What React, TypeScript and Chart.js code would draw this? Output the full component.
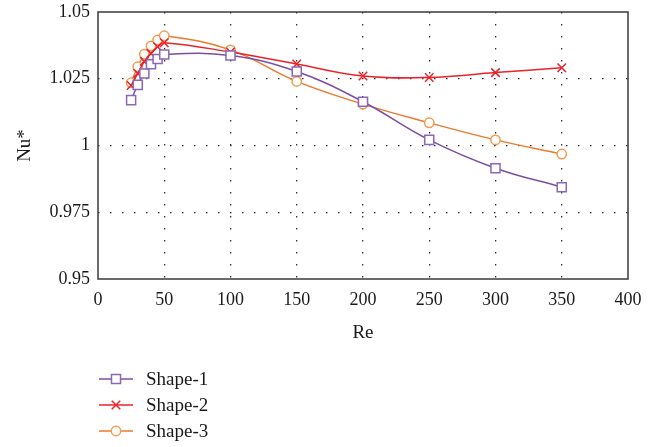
import React, { useEffect, useRef } from "react";
import { Chart, registerables } from "chart.js";

Chart.register(...registerables);

const reValues = [25, 30, 35, 40, 45, 50, 100, 150, 200, 250, 300, 350];
const shape1 = [1.017, 1.0227, 1.027, 1.0304, 1.0324, 1.0341, 1.0337, 1.0277, 1.0164, 1.0021, 0.9915, 0.9844];
const shape2 = [1.0225, 1.027, 1.0315, 1.0345, 1.037, 1.0385, 1.035, 1.0305, 1.026, 1.0255, 1.0273, 1.0291];
const shape3 = [1.0235, 1.0295, 1.0342, 1.0373, 1.0395, 1.0411, 1.0358, 1.024, 1.0155, 1.0085, 1.0021, 0.9968];
const seriesNames = ["Shape-1", "Shape-2", "Shape-3"];
const xTicks = [0, 50, 100, 150, 200, 250, 300, 350, 400];
const yTicks = [0.95, 0.975, 1, 1.025, 1.05];

const FONT = "'Liberation Serif', 'Times New Roman', serif";
const colors = ["#7a4fa3", "#e8232a", "#ec7a2c"];
const pointColors = ["#8a68b5", "#e8232a", "#f29a4f"];
const styles = ["rect", "crossRot", "circle"];
const radii = [6.4, 6, 4.7];

function drawMarker(ctx: CanvasRenderingContext2D, style: string, x: number, y: number, r: number) {
  ctx.beginPath();
  if (style === "rect") {
    const s = Math.SQRT1_2 * r;
    ctx.rect(x - s, y - s, 2 * s, 2 * s);
    ctx.fillStyle = "#fff";
    ctx.fill();
  } else if (style === "circle") {
    ctx.arc(x, y, r, 0, Math.PI * 2);
    ctx.fillStyle = "#fff";
    ctx.fill();
  } else {
    const s = Math.SQRT1_2 * r;
    ctx.moveTo(x - s, y - s);
    ctx.lineTo(x + s, y + s);
    ctx.moveTo(x + s, y - s);
    ctx.lineTo(x - s, y + s);
  }
  ctx.stroke();
}

const boxAndLegend = {
  id: "boxAndLegend",
  beforeDatasetsDraw(chart: any) {
    const { ctx, chartArea } = chart;
    ctx.save();
    ctx.strokeStyle = "#3a3a3a";
    ctx.lineWidth = 1.5;
    ctx.strokeRect(chartArea.left, chartArea.top, chartArea.right - chartArea.left, chartArea.bottom - chartArea.top);
    ctx.restore();
  },
  afterDraw(chart: any) {
    const { ctx, chartArea } = chart;
    ctx.save();
    chart.data.datasets.forEach((ds: any, i: number) => {
      const y = chartArea.bottom + 100 + i * 26;
      const x0 = chartArea.left + 1;
      const x1 = x0 + 34;
      ctx.strokeStyle = ds.borderColor;
      ctx.lineWidth = 1.5;
      ctx.beginPath();
      ctx.moveTo(x0, y);
      ctx.lineTo(x1, y);
      ctx.stroke();
      ctx.strokeStyle = ds.pointBorderColor;
      drawMarker(ctx, ds.pointStyle, (x0 + x1) / 2, y, ds.pointRadius);
      ctx.fillStyle = "#1a1a1a";
      ctx.font = `19px ${FONT}`;
      ctx.textBaseline = "middle";
      ctx.textAlign = "left";
      ctx.fillText(ds.label, x1 + 13, y + 1);
    });
    ctx.restore();
  },
};

export default function App() {
  const ref = useRef<HTMLCanvasElement>(null);
  useEffect(() => {
    document.body.style.margin = "0";
    const seriesData = [shape1, shape2, shape3];
    const chart = new Chart(ref.current!, {
      type: "line",
      data: {
        datasets: seriesData.map((vals, i) => ({
          label: seriesNames[i],
          data: reValues.map((x, j) => ({ x, y: vals[j] })),
          borderColor: colors[i],
          pointBorderColor: pointColors[i],
          pointBackgroundColor: "#ffffff",
          pointStyle: styles[i],
          pointRadius: radii[i],
          pointBorderWidth: 1.5,
          borderWidth: 1.5,
          tension: 0.4,
          fill: false,
        })),
      },
      options: {
        responsive: false,
        animation: false,
        layout: { padding: { left: 0, top: 12, right: 32, bottom: 98 } },
        plugins: { legend: { display: false }, tooltip: { enabled: false } },
        scales: {
          x: {
            type: "linear",
            min: 0,
            max: 400,
            afterBuildTicks: (s: any) => {
              s.ticks = xTicks.map((v) => ({ value: v }));
            },
            afterFit: (s: any) => {
              s.height = 70;
              s.paddingLeft = 0;
              s.paddingRight = 0;
            },
            border: { display: false, dash: [1.5, 10.5] },
            grid: {
              drawTicks: false,
              color: (c: any) => (c.index === 0 || c.index === xTicks.length - 1 ? "rgba(0,0,0,0)" : "#333"),
              lineWidth: 1.3,
            },
            ticks: {
              padding: 10,
              color: "#1a1a1a",
              font: { family: FONT, size: 18 },
              callback: (v: any) => String(v),
            },
            title: {
              display: true,
              text: "Re",
              color: "#1a1a1a",
              font: { family: FONT, size: 19 },
              padding: { top: 0, bottom: 5 },
            },
          },
          y: {
            type: "linear",
            min: 0.95,
            max: 1.05,
            afterBuildTicks: (s: any) => {
              s.ticks = yTicks.map((v) => ({ value: v }));
            },
            afterFit: (s: any) => {
              s.width = 98;
              s.paddingTop = 0;
              s.paddingBottom = 0;
            },
            border: { display: false, dash: [1.5, 10.5] },
            grid: {
              drawTicks: false,
              color: (c: any) => (c.index === 0 || c.index === yTicks.length - 1 ? "rgba(0,0,0,0)" : "#333"),
              lineWidth: 1.3,
            },
            ticks: {
              padding: 8,
              color: "#1a1a1a",
              font: { family: FONT, size: 18 },
              callback: (v: any) => String(Number(Number(v).toFixed(3))),
            },
            title: {
              display: true,
              text: "Nu*",
              color: "#1a1a1a",
              font: { family: FONT, size: 19 },
              padding: { top: 14, bottom: 0 },
            },
          },
        },
      },
      plugins: [boxAndLegend],
    });
    return () => chart.destroy();
  }, []);
  return (
    <div style={{ position: "absolute", left: 0, top: 0, width: 660, height: 447, background: "#fff" }}>
      <canvas ref={ref} width={660} height={447} />
    </div>
  );
}
